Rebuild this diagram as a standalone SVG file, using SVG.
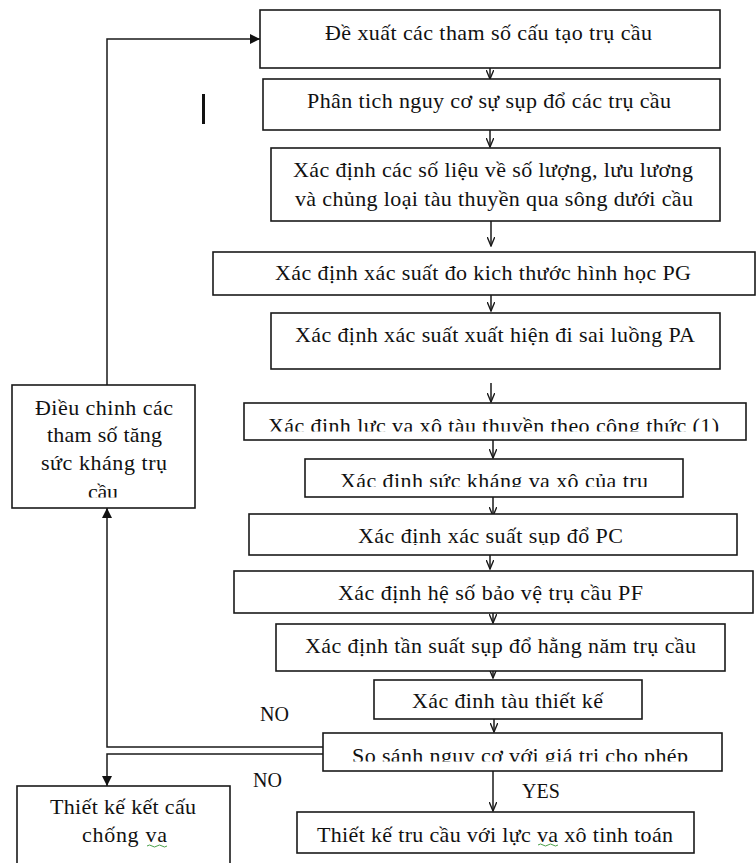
<svg xmlns="http://www.w3.org/2000/svg" width="756" height="863" viewBox="0 0 756 863">
<style>
.box{fill:#fff;stroke:#1a1a1a;stroke-width:1.6}
.t{font-family:"Liberation Serif","Times New Roman",serif;font-size:22px;fill:#111}
.c{text-anchor:middle}
.lb{font-family:"Liberation Serif","Times New Roman",serif;font-size:20px;fill:#111}
.ln{fill:none;stroke:#1a1a1a;stroke-width:1.5}
.sq{fill:none;stroke:#4aa04a;stroke-width:1}
</style>
<defs>
<marker id="v" viewBox="0 0 10 8" refX="9.5" refY="4" markerWidth="10" markerHeight="8" markerUnits="userSpaceOnUse" orient="auto">
<path d="M0,0 L9.5,4 L0,8" fill="none" stroke="#1a1a1a" stroke-width="1.4"/>
</marker>
<marker id="tri" viewBox="0 0 10 10" refX="10" refY="5" markerWidth="10" markerHeight="10" markerUnits="userSpaceOnUse" orient="auto">
<path d="M0,0 L10,5 L0,10 z" fill="#111"/>
</marker>
<clipPath id="c6"><rect x="244" y="403" width="502" height="28.5"/></clipPath>
<clipPath id="c7"><rect x="305" y="459" width="378" height="28"/></clipPath>
<clipPath id="c8"><rect x="249" y="514" width="488" height="31"/></clipPath>
<clipPath id="c12"><rect x="323" y="733" width="399" height="28.5"/></clipPath>
<clipPath id="cl"><rect x="12" y="385" width="183" height="112.5"/></clipPath>
</defs>

<g id="connectors">
<line class="ln" x1="490" y1="68" x2="490" y2="79" marker-end="url(#v)"/>
<line class="ln" x1="490" y1="130" x2="490" y2="147" marker-end="url(#v)"/>
<line class="ln" x1="491" y1="221" x2="491" y2="246" marker-end="url(#v)"/>
<line class="ln" x1="491" y1="295" x2="491" y2="311" marker-end="url(#v)"/>
<line class="ln" x1="491" y1="383" x2="491" y2="402" marker-end="url(#v)"/>
<line class="ln" x1="493" y1="440" x2="493" y2="458" marker-end="url(#v)"/>
<line class="ln" x1="493" y1="497" x2="493" y2="516" marker-end="url(#v)"/>
<line class="ln" x1="490" y1="550" x2="490" y2="569" marker-end="url(#v)"/>
<line class="ln" x1="493" y1="610" x2="493" y2="623" marker-end="url(#v)"/>
<line class="ln" x1="493" y1="662" x2="493" y2="678" marker-end="url(#v)"/>
<line class="ln" x1="494" y1="715" x2="494" y2="732" marker-end="url(#v)"/>
<line class="ln" x1="493" y1="771" x2="493" y2="811" marker-end="url(#v)"/>
<path class="ln" d="M107,385 V39 H260" marker-end="url(#tri)"/>
<path class="ln" d="M323,747 H107 V508" marker-end="url(#tri)"/>
<path class="ln" d="M323,754 H107 V786" marker-end="url(#tri)"/>
<text class="lb" x="260" y="721">NO</text>
<text class="lb" x="253" y="787">NO</text>
<text class="lb" x="522" y="798">YES</text>
</g>

<rect x="202" y="94" width="3" height="30" fill="#111"/>

<g id="n1"><rect class="box" x="260" y="10" width="460" height="58"/>
<text class="t" x="325" y="40" textLength="327" lengthAdjust="spacing">Đề xuất các tham số cấu tạo trụ cầu</text></g>

<g id="n2"><rect class="box" x="263" y="79" width="457" height="51"/>
<text class="t" x="307" y="108" textLength="364" lengthAdjust="spacing">Phân tich nguy cơ sự sụp đổ các trụ cầu</text></g>

<g id="n3"><rect class="box" x="271" y="148" width="449" height="73"/>
<text class="t" x="293" y="177" textLength="400" lengthAdjust="spacing">Xác định các số liệu về số lượng, lưu lương</text>
<text class="t" x="295" y="206" textLength="398" lengthAdjust="spacing">và chủng loại tàu thuyền qua sông dưới cầu</text></g>

<g id="n4"><rect class="box" x="213" y="252" width="542" height="43"/>
<text class="t" x="275" y="280" textLength="416" lengthAdjust="spacing">Xác định xác suất đo kich thước hình học PG</text></g>

<g id="n5"><rect class="box" x="271" y="313" width="449" height="56"/>
<text class="t" x="295" y="342" textLength="400" lengthAdjust="spacing">Xác định xác suất xuất hiện đi sai luồng PA</text></g>

<g id="n6"><rect class="box" x="244" y="403" width="502" height="37"/>
<text class="t" x="268" y="433" textLength="451" lengthAdjust="spacing" clip-path="url(#c6)">Xác định lực va xô tàu thuyền theo công thức (1)</text></g>

<g id="n7"><rect class="box" x="305" y="459" width="378" height="38"/>
<text class="t" x="340" y="488" textLength="308" lengthAdjust="spacing" clip-path="url(#c7)">Xác định sức kháng va xô của trụ</text></g>

<g id="n8"><rect class="box" x="249" y="514" width="488" height="41"/>
<text class="t" x="358" y="543" textLength="265" lengthAdjust="spacing" clip-path="url(#c8)">Xác định xác suất sụp đổ PC</text></g>

<g id="n9"><rect class="box" x="234" y="571" width="519" height="42"/>
<text class="t" x="338" y="600" textLength="305" lengthAdjust="spacing">Xác định hệ số bảo vệ trụ cầu PF</text></g>

<g id="n10"><rect class="box" x="276" y="624" width="449" height="47"/>
<text class="t" x="305" y="653" textLength="391" lengthAdjust="spacing">Xác định tần suất sụp đổ hằng năm trụ cầu</text></g>

<g id="n11"><rect class="box" x="374" y="680" width="268" height="39"/>
<text class="t" x="412" y="708" textLength="191" lengthAdjust="spacing">Xác đinh tàu thiết kế</text></g>

<g id="n12"><rect class="box" x="323" y="733" width="399" height="38"/>
<text class="t" x="352" y="763" textLength="336" lengthAdjust="spacing" clip-path="url(#c12)">So sánh nguy cơ với giá trị cho phép</text></g>

<g id="n13"><rect class="box" x="297" y="812" width="397" height="41"/>
<text class="t" x="317" y="842" textLength="356" lengthAdjust="spacing">Thiết kế tru cầu với lực va xô tinh toán</text>
<path class="sq" d="M538,845 q2.5,-2 5,0 t5,0 t5,0 t5,0"/></g>

<g id="n14"><rect class="box" x="12" y="385" width="183" height="123"/>
<text class="t" x="35" y="415" textLength="138" lengthAdjust="spacing">Điều chinh các</text>
<text class="t" x="47" y="442" textLength="115" lengthAdjust="spacing">tham số tăng</text>
<text class="t" x="41" y="470" textLength="126" lengthAdjust="spacing">sức kháng trụ</text>
<text class="t" x="88" y="499" textLength="30" lengthAdjust="spacing" clip-path="url(#cl)">cầu</text></g>

<g id="n15"><rect class="box" x="17" y="786" width="213" height="90"/>
<text class="t" x="50" y="814" textLength="146" lengthAdjust="spacing">Thiết kế kết cấu</text>
<text class="t" x="82" y="842" textLength="85" lengthAdjust="spacing">chống va</text>
<path class="sq" d="M147,846 q2.5,-2 5,0 t5,0 t5,0 t5,0"/></g>
</svg>
